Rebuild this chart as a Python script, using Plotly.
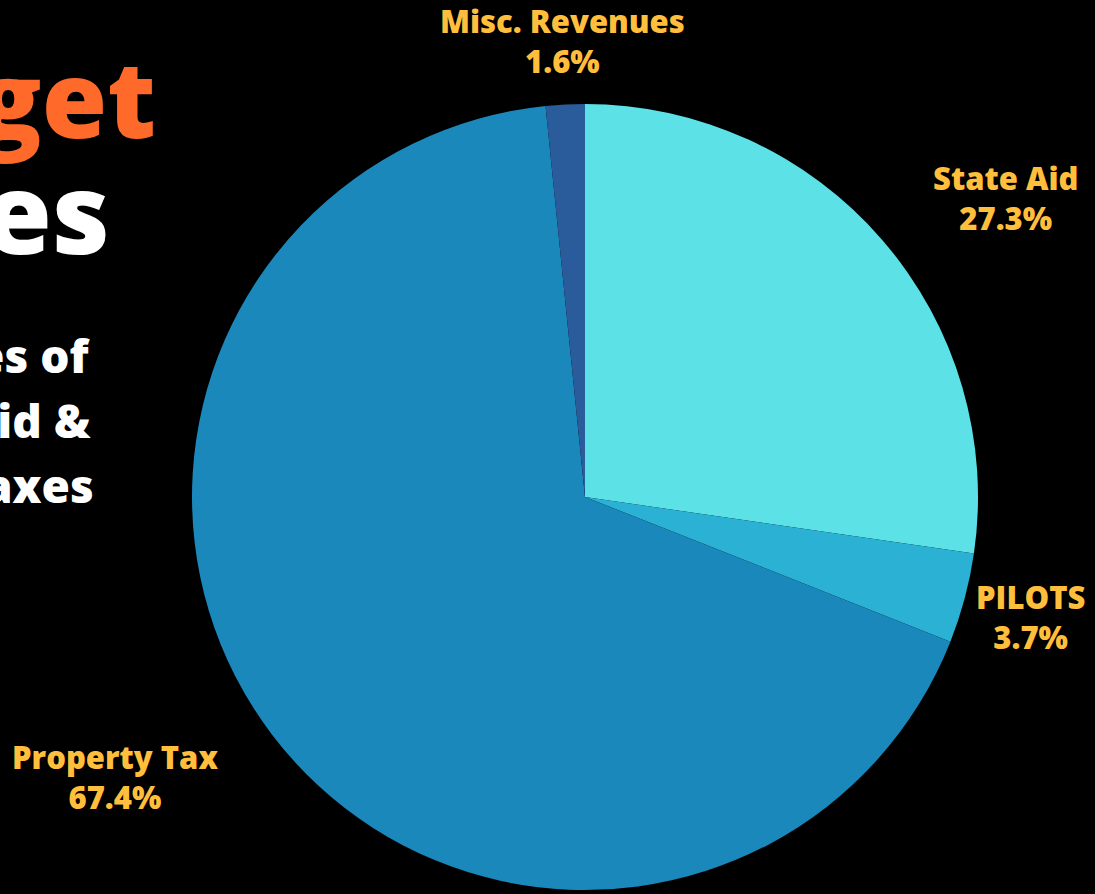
import plotly.graph_objects as go

# Revenue sources and their share of the budget (%)
labels = ["State Aid", "PILOTS", "Property Tax", "Misc. Revenues"]
shares = [27.3, 3.7, 67.4, 1.6]
colors = ["#5CE1E6", "#2BB1D4", "#1A88BA", "#2A5C9B"]

# Heading text lines
title_lines = ["Budget", "Revenues"]
subtitle_lines = ["Sources of", "State Aid &", "Property Taxes"]

W, H = 1095, 894
cx, cy, r = 585, 497, 393

fig = go.Figure(go.Pie(
    labels=labels,
    values=shares,
    sort=False,
    direction="clockwise",
    rotation=0,
    marker=dict(colors=colors, line=dict(width=0)),
    textinfo="none",
    hoverinfo="label+percent",
    showlegend=False,
    domain=dict(x=[(cx - r) / W, (cx + r) / W], y=[1 - (cy + r) / H, 1 - (cy - r) / H]),
))

label_font = dict(family="Open Sans", size=31, color="#FFBE3B", weight=800)
# label centre positions in pixels
label_pos = {
    "State Aid": (1005, 198),
    "PILOTS": (1030, 617),
    "Property Tax": (115, 777),
    "Misc. Revenues": (562, 41),
}
for lab, val in zip(labels, shares):
    px, py = label_pos[lab]
    fig.add_annotation(
        x=px / W, y=1 - py / H, xref="paper", yref="paper",
        xanchor="center", yanchor="middle", showarrow=False,
        text=f"{lab}<br>{val}%", font=label_font, align="center",
    )

# Heading on the left edge
fig.add_annotation(x=158 / W, y=1 - 97 / H, xref="paper", yref="paper",
                   xanchor="right", yanchor="middle", showarrow=False,
                   text=title_lines[0],
                   font=dict(family="Open Sans", size=106, color="#FF6A2B", weight=800))
fig.add_annotation(x=112 / W, y=1 - 210 / H, xref="paper", yref="paper",
                   xanchor="right", yanchor="middle", showarrow=False,
                   text=title_lines[1],
                   font=dict(family="Open Sans", size=112, color="#FFFFFF", weight=800))
for i, (line, xr) in enumerate(zip(subtitle_lines, [93, 93, 96])):
    fig.add_annotation(x=xr / W, y=1 - (355 + 65 * i) / H, xref="paper", yref="paper",
                       xanchor="right", yanchor="middle", showarrow=False,
                       text=line,
                       font=dict(family="Open Sans", size=46, color="#FFFFFF", weight=800))

fig.update_layout(
    width=W, height=H,
    margin=dict(l=0, r=0, t=0, b=0),
    paper_bgcolor="#000000",
    plot_bgcolor="#000000",
)

fig.write_html("out.html")
